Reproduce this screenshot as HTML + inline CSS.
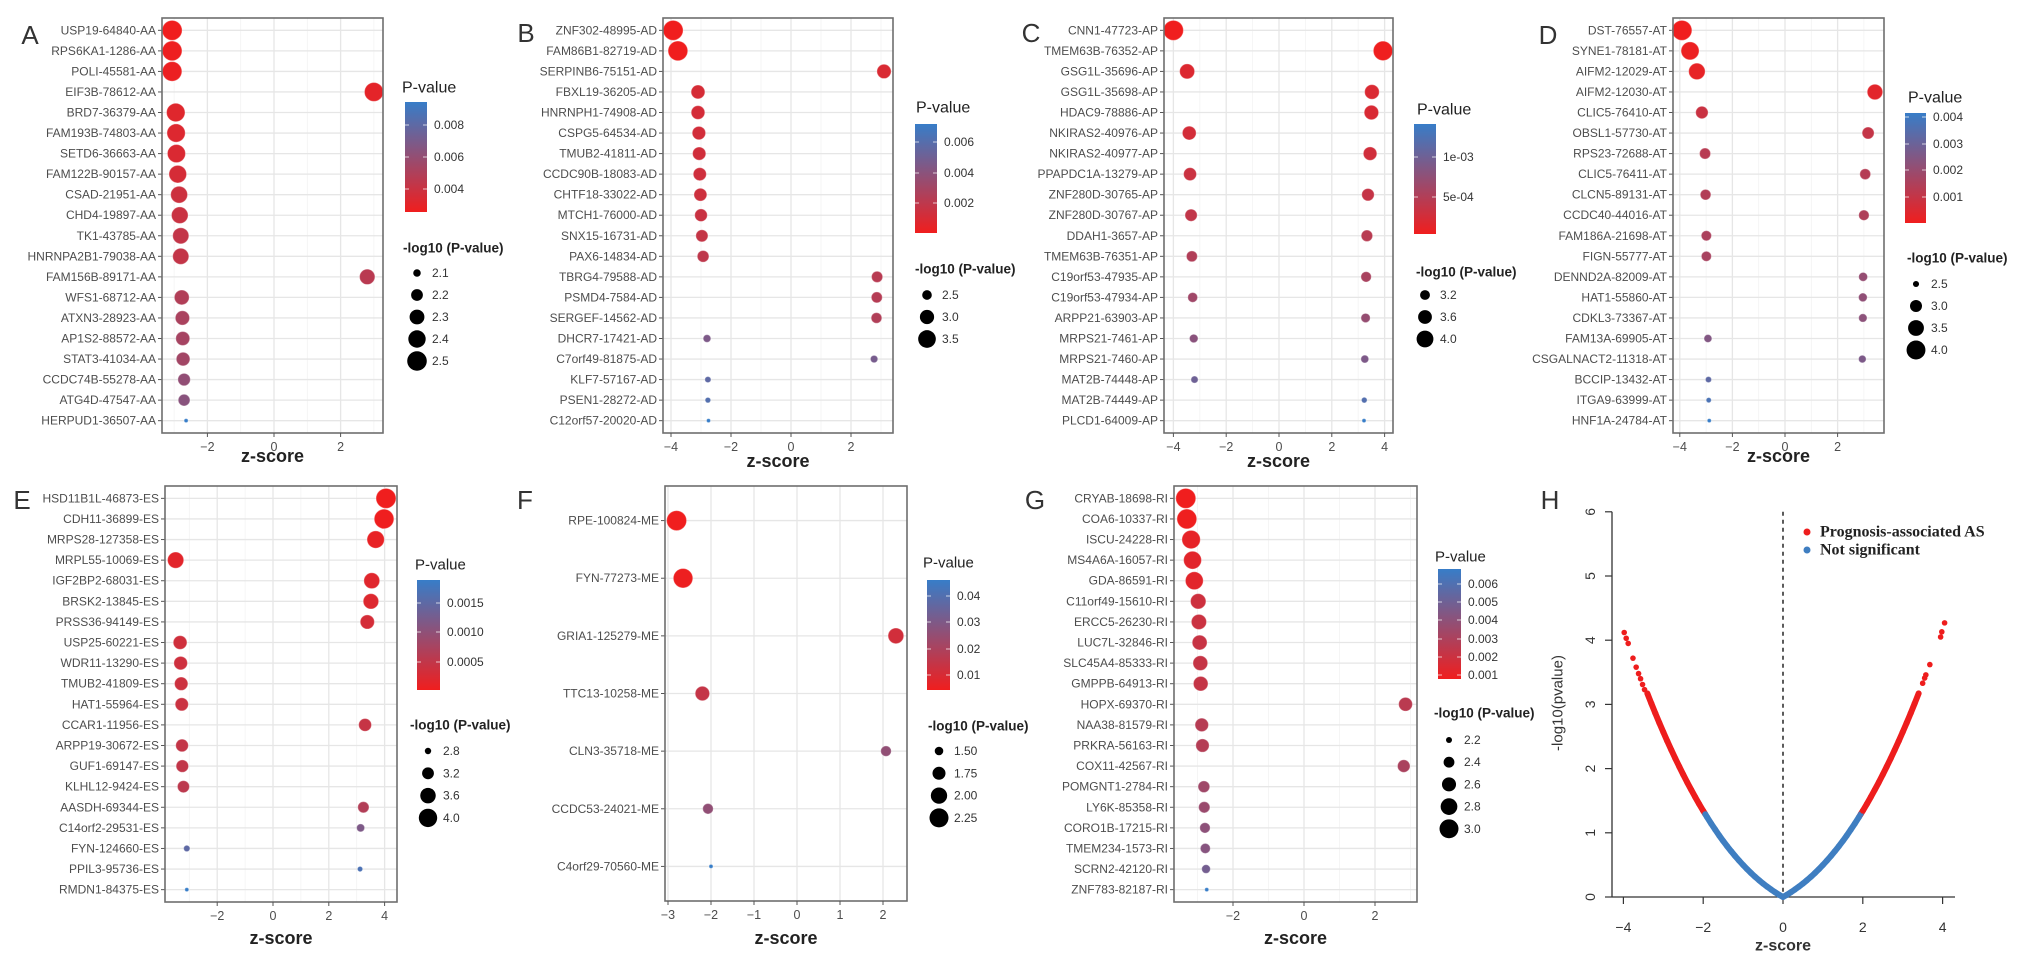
<!DOCTYPE html>
<html><head><meta charset="utf-8"><style>
html,body{margin:0;padding:0;background:#fff;}
svg{display:block;font-family:"Liberation Sans",Arial,sans-serif;}
</style></head><body>
<svg id="fig" width="2031" height="970" viewBox="0 0 2031 970" xmlns="http://www.w3.org/2000/svg"></svg>
<script>
// ---------- Panel data ----------
const aGenes=["USP19-64840-AA","RPS6KA1-1286-AA","POLI-45581-AA","EIF3B-78612-AA","BRD7-36379-AA","FAM193B-74803-AA","SETD6-36663-AA","FAM122B-90157-AA","CSAD-21951-AA","CHD4-19897-AA","TK1-43785-AA","HNRNPA2B1-79038-AA","FAM156B-89171-AA","WFS1-68712-AA","ATXN3-28923-AA","AP1S2-88572-AA","STAT3-41034-AA","CCDC74B-55278-AA","ATG4D-47547-AA","HERPUD1-36507-AA"];
const aZ=[-3.06,-3.06,-3.06,3.0,-2.95,-2.94,-2.93,-2.89,-2.85,-2.83,-2.8,-2.8,2.8,-2.77,-2.75,-2.74,-2.73,-2.7,-2.7,-2.64];
const aNlp=[2.52,2.51,2.5,2.47,2.45,2.44,2.43,2.41,2.38,2.37,2.35,2.35,2.32,2.3,2.28,2.27,2.26,2.22,2.2,2.05];

const bGenes=["ZNF302-48995-AD","FAM86B1-82719-AD","SERPINB6-75151-AD","FBXL19-36205-AD","HNRNPH1-74908-AD","CSPG5-64534-AD","TMUB2-41811-AD","CCDC90B-18083-AD","CHTF18-33022-AD","MTCH1-76000-AD","SNX15-16731-AD","PAX6-14834-AD","TBRG4-79588-AD","PSMD4-7584-AD","SERGEF-14562-AD","DHCR7-17421-AD","C7orf49-81875-AD","KLF7-57167-AD","PSEN1-28272-AD","C12orf57-20020-AD"];
const bZ=[-3.93,-3.77,3.1,-3.1,-3.1,-3.07,-3.06,-3.04,-3.02,-3.0,-2.97,-2.93,2.87,2.86,2.85,-2.8,2.77,-2.77,-2.77,-2.75];
const bNlp=[3.9,3.85,3.0,2.95,2.93,2.9,2.88,2.86,2.84,2.8,2.75,2.7,2.65,2.63,2.6,2.35,2.33,2.25,2.22,2.15];

const cGenes=["CNN1-47723-AP","TMEM63B-76352-AP","GSG1L-35696-AP","GSG1L-35698-AP","HDAC9-78886-AP","NKIRAS2-40976-AP","NKIRAS2-40977-AP","PPAPDC1A-13279-AP","ZNF280D-30765-AP","ZNF280D-30767-AP","DDAH1-3657-AP","TMEM63B-76351-AP","C19orf53-47935-AP","C19orf53-47934-AP","ARPP21-63903-AP","MRPS21-7461-AP","MRPS21-7460-AP","MAT2B-74448-AP","MAT2B-74449-AP","PLCD1-64009-AP"];
const cZ=[-4.0,3.94,-3.48,3.52,3.5,-3.4,3.45,-3.37,3.37,-3.33,3.33,-3.3,3.3,-3.27,3.28,-3.23,3.25,-3.2,3.23,3.22];
const cNlp=[4.5,4.4,3.75,3.7,3.68,3.6,3.57,3.5,3.45,3.42,3.35,3.3,3.25,3.2,3.15,3.1,3.05,3.0,2.92,2.85];

const dGenes=["DST-76557-AT","SYNE1-78181-AT","AIFM2-12029-AT","AIFM2-12030-AT","CLIC5-76410-AT","OBSL1-57730-AT","RPS23-72688-AT","CLIC5-76411-AT","CLCN5-89131-AT","CCDC40-44016-AT","FAM186A-21698-AT","FIGN-55777-AT","DENND2A-82009-AT","HAT1-55860-AT","CDKL3-73367-AT","FAM13A-69905-AT","CSGALNACT2-11318-AT","BCCIP-13432-AT","ITGA9-63999-AT","HNF1A-24784-AT"];
const dZ=[-3.92,-3.61,-3.35,3.42,-3.16,3.16,-3.04,3.05,-3.02,3.0,-2.99,-2.99,2.97,2.96,2.96,-2.93,2.94,-2.91,-2.9,-2.88];
const dNlp=[4.2,3.85,3.6,3.45,3.05,3.0,2.9,2.88,2.86,2.84,2.82,2.8,2.7,2.68,2.66,2.62,2.6,2.5,2.45,2.4];

const eGenes=["HSD11B1L-46873-ES","CDH11-36899-ES","MRPS28-127358-ES","MRPL55-10069-ES","IGF2BP2-68031-ES","BRSK2-13845-ES","PRSS36-94149-ES","USP25-60221-ES","WDR11-13290-ES","TMUB2-41809-ES","HAT1-55964-ES","CCAR1-11956-ES","ARPP19-30672-ES","GUF1-69147-ES","KLHL12-9424-ES","AASDH-69344-ES","C14orf2-29531-ES","FYN-124660-ES","PPIL3-95736-ES","RMDN1-84375-ES"];
const eZ=[4.05,3.98,3.68,-3.49,3.54,3.51,3.38,-3.33,-3.31,-3.29,-3.27,3.3,-3.26,-3.25,-3.21,3.24,3.14,-3.09,3.12,-3.09];
const eNlp=[4.25,4.2,3.85,3.7,3.65,3.6,3.45,3.4,3.38,3.36,3.34,3.3,3.28,3.26,3.22,3.15,2.9,2.8,2.75,2.7];

const fGenes=["RPE-100824-ME","FYN-77273-ME","GRIA1-125279-ME","TTC13-10258-ME","CLN3-35718-ME","CCDC53-24021-ME","C4orf29-70560-ME"];
const fZ=[-2.8,-2.65,2.3,-2.2,2.07,-2.07,-2.0];
const fNlp=[2.35,2.3,1.95,1.85,1.6,1.6,1.35];

const gGenes=["CRYAB-18698-RI","COA6-10337-RI","ISCU-24228-RI","MS4A6A-16057-RI","GDA-86591-RI","C11orf49-15610-RI","ERCC5-26230-RI","LUC7L-32846-RI","SLC45A4-85333-RI","GMPPB-64913-RI","HOPX-69370-RI","NAA38-81579-RI","PRKRA-56163-RI","COX11-42567-RI","POMGNT1-2784-RI","LY6K-85358-RI","CORO1B-17215-RI","TMEM234-1573-RI","SCRN2-42120-RI","ZNF783-82187-RI"];
const gZ=[-3.33,-3.3,-3.18,-3.14,-3.09,-2.98,-2.96,-2.94,-2.92,-2.91,2.86,-2.88,-2.86,2.81,-2.82,-2.81,-2.79,-2.78,-2.76,-2.74];
const gNlp=[3.1,3.08,2.95,2.9,2.9,2.7,2.68,2.66,2.65,2.64,2.58,2.56,2.55,2.5,2.45,2.43,2.38,2.36,2.3,2.15];

// legend tick labels
const aColTicks=["0.008","0.006","0.004"], aSizeBreaks=[2.1,2.2,2.3,2.4,2.5];
const bColTicks=["0.006","0.004","0.002"], bSizeBreaks=[2.5,3.0,3.5];
const cColTicks=["1e-03","5e-04"], cSizeBreaks=[3.2,3.6,4.0];
const dColTicks=["0.004","0.003","0.002","0.001"], dSizeBreaks=[2.5,3.0,3.5,4.0];
const eColTicks=["0.0015","0.0010","0.0005"], eSizeBreaks=[2.8,3.2,3.6,4.0];
const fColTicks=["0.04","0.03","0.02","0.01"], fSizeBreaks=[1.5,1.75,2.0,2.25];
const gColTicks=["0.006","0.005","0.004","0.003","0.002","0.001"], gSizeBreaks=[2.2,2.4,2.6,2.8,3.0];

// volcano (H) data
const hZ=[-3.98,-3.93,-3.88,-3.76,-3.68,-3.62,-3.57,-3.52,-3.47,
-3.4,-3.3,-3.2,-3.1,-3.0,-2.9,-2.8,-2.7,-2.6,-2.5,-2.4,-2.3,-2.2,-2.1,-2.0,-1.95,-1.9,-1.8,-1.7,-1.6,-1.5,-1.4,-1.3,-1.2,-1.1,-1.0,-0.9,-0.8,-0.7,-0.6,-0.5,-0.4,-0.3,-0.2,-0.1,0,
0.1,0.2,0.3,0.4,0.5,0.6,0.7,0.8,0.9,1.0,1.1,1.2,1.3,1.4,1.5,1.6,1.7,1.8,1.9,1.95,2.0,2.1,2.2,2.3,2.4,2.5,2.6,2.7,2.8,2.9,3.0,3.1,3.2,3.3,3.4,
3.5,3.55,3.58,3.68,3.95,3.98,4.05];
const hY=[4.12,4.03,3.95,3.72,3.58,3.48,3.40,3.31,3.23,
3.171,3.015,2.862,2.713,2.569,2.428,2.292,2.159,2.031,1.906,1.785,1.669,1.556,1.447,1.342,1.292,1.241,1.143,1.050,0.959,0.873,0.791,0.713,0.638,0.567,0.499,0.434,0.373,0.315,0.261,0.210,0.162,0.117,0.075,0.035,0,
0.035,0.075,0.117,0.162,0.210,0.261,0.315,0.373,0.434,0.499,0.567,0.638,0.713,0.791,0.873,0.959,1.050,1.143,1.241,1.292,1.342,1.447,1.556,1.669,1.785,1.906,2.031,2.159,2.292,2.428,2.569,2.713,2.862,3.015,3.171,
3.33,3.41,3.46,3.62,4.05,4.13,4.27];
const hYTicks=[0,1,2,3,4,5,6];
const hXTicks=[-4,-2,0,2,4];

// ---------- helpers ----------
const NS="http://www.w3.org/2000/svg";
const svg=document.getElementById('fig');
function mk(tag,attrs,parent){const e=document.createElementNS(NS,tag);for(const k in attrs)e.setAttribute(k,attrs[k]);(parent||svg).appendChild(e);return e;}
function lerpColor(t){t=Math.max(0,Math.min(1,t));const a=[240,30,30],b=[55,125,200];
 const c=a.map((v,i)=>Math.round(v+(b[i]-v)*t));return `rgb(${c[0]},${c[1]},${c[2]})`;}

function panelLabel(ch,x,y){const t=mk('text',{x:x,y:y,'font-size':26,fill:'#333','text-anchor':'middle','dominant-baseline':'central'});
 
 t.textContent=ch;}

function dotPanel(id,L,genes,zs,nlps,colTicks,sizeBreaks){
 const g=mk('g',{});
 
 
 const [x0,x1,y0,y1]=L.box;
 const xs=z=>L.zero+L.ppu*z;
 const n=genes.length, step=(y1-y0)/(n-1+1.2);
 const ys=i=>y0+step*(0.6+i);
 mk('rect',{x:x0,y:y0,width:x1-x0,height:y1-y0,fill:'#fff'},g);
 // minor grid
 for(let k=Math.floor((x0-L.zero)/L.ppu)-1;k<=Math.ceil((x1-L.zero)/L.ppu)+1;k++){
   const px=xs(k); if(px<=x0||px>=x1)continue;
   const major=L.ticks.indexOf(k)>=0;
   const gl=mk('line',{x1:px,x2:px,y1:y0,y2:y1,stroke:major?'#e6e6e6':'#f3f3f3','stroke-width':major?1.3:0.8},g);
   
   
 }
 // row grid, labels
 genes.forEach((name,i)=>{
   const y=ys(i);
   const hl=mk('line',{x1:x0,x2:x1,y1:y,y2:y,stroke:'#e6e6e6','stroke-width':1.3},g);
   
   
   mk('line',{x1:x0-4,x2:x0,y1:y,y2:y,stroke:'#555','stroke-width':1},g);
   const t=mk('text',{x:x0-6,y:y,'font-size':12,fill:'#4d4d4d','text-anchor':'end','dominant-baseline':'central'},g);
   
   
   t.textContent=name;
 });
 // scales
 const ps=nlps.map(s=>Math.pow(10,-s));
 const pmin=Math.min(...ps),pmax=Math.max(...ps);
 const smin=Math.min(...nlps),smax=Math.max(...nlps);
 const rad=s=>{const t=Math.max(0,(s-smin)/(smax-smin));return Math.sqrt(4+(100-4)*t);};
 // points
 genes.forEach((name,i)=>{
   const c=lerpColor((ps[i]-pmin)/(pmax-pmin));
   const p=mk('circle',{cx:xs(zs[i]),cy:ys(i),r:rad(nlps[i]),fill:c,stroke:'rgba(255,255,255,0.35)','stroke-width':1},g);
   
   
 });
 // border
 mk('rect',{x:x0,y:y0,width:x1-x0,height:y1-y0,fill:'none',stroke:'#6e6e6e','stroke-width':1.6},g);
 // x ticks
 L.ticks.forEach(k=>{
   mk('line',{x1:xs(k),x2:xs(k),y1:y1,y2:y1+4,stroke:'#555','stroke-width':1},g);
   const t=mk('text',{x:xs(k),y:y1+14,'font-size':12.5,fill:'#4d4d4d','text-anchor':'middle','dominant-baseline':'central'},g);
   
   
   t.textContent=(k<0?'\u2212':'')+Math.abs(k);
 });
 const xt=mk('text',{x:(x0+x1)/2,y:L.xtitleY,'font-size':18,'font-weight':'bold',fill:'#222','text-anchor':'middle','dominant-baseline':'central'},g);
 
 
 xt.textContent='z-score';
 // colour legend
 const G=L.leg;
 const gid='grad'+id;
 const defs=mk('defs',{},g);
 const lg=mk('linearGradient',{id:gid,x1:0,y1:1,x2:0,y2:0},defs);
 mk('stop',{offset:'0%','stop-color':lerpColor(0)},lg);
 mk('stop',{offset:'50%','stop-color':lerpColor(0.5)},lg);
 mk('stop',{offset:'100%','stop-color':lerpColor(1)},lg);
 const ct=mk('text',{x:G.titleX,y:G.titleY,'font-size':G.tfs||15,fill:'#222','dominant-baseline':'central'},g);
 
 
 ct.textContent='P-value';
 const bar=mk('rect',{x:G.barX,y:G.barY,width:G.barW,height:G.barH,fill:`url(#${gid})`},g);
 
 
 colTicks.forEach((lab,i)=>{
   const y=G.tickY[i];
   mk('line',{x1:G.barX,x2:G.barX+4,y1:y,y2:y,stroke:'#fff','stroke-width':1,opacity:0.7},g);
   mk('line',{x1:G.barX+G.barW-4,x2:G.barX+G.barW,y1:y,y2:y,stroke:'#fff','stroke-width':1,opacity:0.7},g);
   const t=mk('text',{x:G.barX+G.barW+7,y:y,'font-size':12,fill:'#333','dominant-baseline':'central'},g);
   
   
   t.textContent=lab;
 });
 const st=mk('text',{x:G.sTitleX,y:G.sTitleY,'font-size':13.5,'font-weight':'bold',fill:'#222','dominant-baseline':'central'},g);
 
 
 st.textContent='-log10 (P-value)';
 sizeBreaks.forEach((b,i)=>{
   const y=G.sY0+G.sStep*i;
   const c=mk('circle',{cx:G.sCX,cy:y,r:rad(b),fill:'#000'},g);
   
   
   const t=mk('text',{x:G.sCX+15,y:y,'font-size':12,fill:'#333','dominant-baseline':'central'},g);
   
   
   t.textContent=(id==='f')?b.toFixed(2):b.toFixed(1);
 });
}

// ---------- layouts ----------
dotPanel('a',{box:[162,383,18,433],zero:274,ppu:33.3,ticks:[-2,0,2],xtitleY:456,
 leg:{titleX:402,titleY:88,tfs:16,barX:405,barY:102,barW:22,barH:110,tickY:[125,157,189],sTitleX:403,sTitleY:248,sY0:273,sStep:22,sCX:417}},
 aGenes,aZ,aNlp,aColTicks,aSizeBreaks);
dotPanel('b',{box:[663,893,18,433],zero:791,ppu:30,ticks:[-4,-2,0,2],xtitleY:461,
 leg:{titleX:916,titleY:108,tfs:16,barX:915,barY:124,barW:22,barH:109,tickY:[142,173,203],sTitleX:915,sTitleY:269,sY0:295,sStep:22,sCX:927}},
 bGenes,bZ,bNlp,bColTicks,bSizeBreaks);
dotPanel('c',{box:[1164,1393,18,433],zero:1279,ppu:26.4,ticks:[-4,-2,0,2,4],xtitleY:461,
 leg:{titleX:1417,titleY:110,tfs:16,barX:1414,barY:124,barW:22,barH:110,tickY:[157,197],sTitleX:1416,sTitleY:272,sY0:295,sStep:22,sCX:1425}},
 cGenes,cZ,cNlp,cColTicks,cSizeBreaks);
dotPanel('d',{box:[1673,1884,18,433],zero:1785,ppu:26.3,ticks:[-4,-2,0,2],xtitleY:456,
 leg:{titleX:1908,titleY:98,tfs:16,barX:1905,barY:113,barW:21,barH:110,tickY:[117,144,170,197],sTitleX:1907,sTitleY:258,sY0:284,sStep:22,sCX:1916}},
 dGenes,dZ,dNlp,dColTicks,dSizeBreaks);
dotPanel('e',{box:[165,397,486,902],zero:273,ppu:27.9,ticks:[-2,0,2,4],xtitleY:938,
 leg:{titleX:415,titleY:565,barX:417,barY:580,barW:23,barH:110,tickY:[603,632,662],sTitleX:410,sTitleY:725,sY0:751,sStep:22.3,sCX:428}},
 eGenes,eZ,eNlp,eColTicks,eSizeBreaks);
dotPanel('f',{box:[665,907,486,901],zero:797,ppu:43,ticks:[-3,-2,-1,0,1,2],xtitleY:938,
 leg:{titleX:923,titleY:563,barX:927,barY:580,barW:23,barH:110,tickY:[596,622,649,675],sTitleX:928,sTitleY:726,sY0:751,sStep:22.3,sCX:939}},
 fGenes,fZ,fNlp,fColTicks,fSizeBreaks);
dotPanel('g',{box:[1174,1417,486,902],zero:1304,ppu:35.5,ticks:[-2,0,2],xtitleY:938,
 leg:{titleX:1435,titleY:557,barX:1438,barY:569,barW:23,barH:110,tickY:[584,602,620,639,657,675],sTitleX:1434,sTitleY:713,sY0:740,sStep:22.2,sCX:1449}},
 gGenes,gZ,gNlp,gColTicks,gSizeBreaks);

[['A',30,35],['B',526,33],['C',1031,33],['D',1548,35],['E',22,500],['F',525,500],['G',1035,500],['H',1550,500]].forEach(a=>panelLabel(a[0],a[1],a[2]));

// ---------- Panel H: volcano ----------
(function(){
 const g=mk('g',{});
 
 
 const X0=1783,XP=39.9,Y0=897,YP=64.2;
 const xs=z=>X0+XP*z, ys=v=>Y0-YP*v;
 const axL=1612, axR=1955;
 mk('line',{x1:axL,x2:axL,y1:ys(6),y2:ys(0),stroke:'#333','stroke-width':1.3},g);
 mk('line',{x1:axL,x2:axR,y1:Y0,y2:Y0,stroke:'#333','stroke-width':1.3},g);
 hYTicks.forEach(v=>{
  mk('line',{x1:axL-7,x2:axL,y1:ys(v),y2:ys(v),stroke:'#333','stroke-width':1.2},g);
  const t=mk('text',{x:1590,y:ys(v),'font-size':14,fill:'#333','text-anchor':'middle','dominant-baseline':'central',transform:`rotate(-90 1590 ${ys(v)})`},g);
  
  
  t.textContent=v;
 });
 hXTicks.forEach(v=>{
  mk('line',{x1:xs(v),x2:xs(v),y1:Y0,y2:Y0+7,stroke:'#333','stroke-width':1.2},g);
  const t=mk('text',{x:xs(v),y:927,'font-size':14,fill:'#333','text-anchor':'middle','dominant-baseline':'central'},g);
  
  
  t.textContent=(v<0?'\u2212':'')+Math.abs(v);
 });
 const yt=mk('text',{x:1558,y:703,'font-size':15,fill:'#333','text-anchor':'middle','dominant-baseline':'central',transform:'rotate(-90 1558 703)'},g);
 
 
 yt.textContent='-log10(pvalue)';
 const xt=mk('text',{x:xs(0),y:946,'font-size':16,'font-weight':'bold',fill:'#333','text-anchor':'middle','dominant-baseline':'central'},g);
 
 
 xt.textContent='z-score';
 const dl=mk('line',{x1:xs(0),x2:xs(0),y1:ys(6),y2:Y0,stroke:'#333','stroke-width':1.6,'stroke-dasharray':'4,4'},g);
 
 
 const RED='#ee1d1d',BLUE='#3f7ec1';
 const col=z=>Math.abs(z)>=1.96?RED:BLUE;
 for(let i=0;i<hZ.length-1;i++){
  if(Math.abs(hZ[i])<=3.41&&Math.abs(hZ[i+1])<=3.41&&Math.abs(hZ[i+1]-hZ[i])<0.11){
   const outer=Math.abs(hZ[i])>Math.abs(hZ[i+1])?hZ[i]:hZ[i+1];
   const s=mk('line',{x1:xs(hZ[i]),y1:ys(hY[i]),x2:xs(hZ[i+1]),y2:ys(hY[i+1]),stroke:col(outer),'stroke-width':6,'stroke-linecap':'round'},g);
   
   
  }
 }
 hZ.forEach((z,i)=>{
  const c=mk('circle',{cx:xs(z),cy:ys(hY[i]),r:2.8,fill:col(z)},g);
  
  
 });
 [['Prognosis-associated AS',RED,532],['Not significant',BLUE,550]].forEach(e=>{
  const c=mk('circle',{cx:1807,cy:e[2],r:3.5,fill:e[1]},g);
  
  
  const t=mk('text',{x:1820,y:e[2],'font-size':16,'font-weight':'bold',fill:'#222','font-family':'"Liberation Serif",serif','dominant-baseline':'central'},g);
  
  
  t.textContent=e[0];
 });
})();
</script>
</body></html>
